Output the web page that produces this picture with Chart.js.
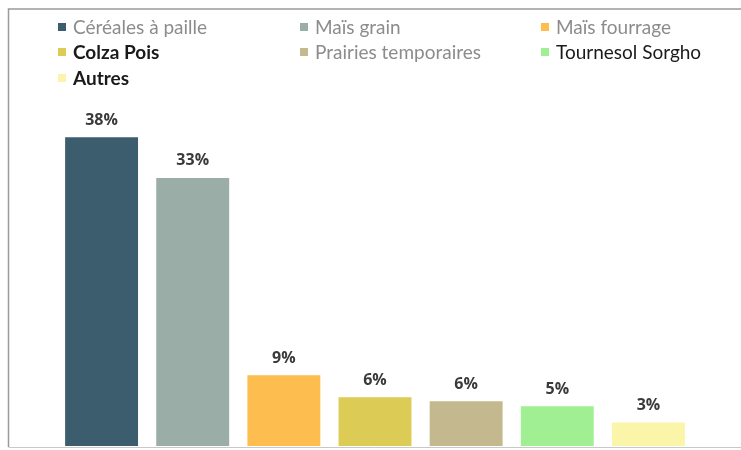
<!DOCTYPE html>
<html>
<head>
<meta charset="utf-8">
<script src="https://cdn.jsdelivr.net/npm/chart.js@4/dist/chart.umd.min.js"></script>
<style>
  html, body { margin: 0; padding: 0; background: #fff; }
  #wrap { width: 741px; height: 450px; position: relative; }
</style>
</head>
<body>
<div id="wrap"><canvas id="chart"></canvas></div>
<script>
// Crop categories and their share of the surface (%)
const categories = ['Céréales à paille', 'Maïs grain', 'Maïs fourrage', 'Colza Pois',
  'Prairies temporaires', 'Tournesol Sorgho', 'Autres'];
const shares = [38, 33, 8.7, 6.0, 5.5, 4.9, 2.9];
const shareLabels = ['38%', '33%', '9%', '6%', '6%', '5%', '3%'];

const barColors = ['#3b5d6e', '#9aada7', '#fdbd4f', '#dccb55', '#c4b88e', '#a0ef93', '#faf5a8'];
// legend text is faded on some entries in the original
const legendTextColors = ['#8c8c8c', '#8c8c8c', '#8c8c8c', '#1a1a1a', '#8c8c8c', '#1a1a1a', '#1a1a1a'];
const legendBold = [false, false, false, true, false, false, true];

// Frame around the figure
const framePlugin = {
  id: 'frame',
  beforeDraw(chart) {
    const ctx = chart.ctx;
    ctx.save();
    ctx.strokeStyle = '#9a9a9a';
    ctx.lineWidth = 1.5;
    ctx.beginPath();
    ctx.moveTo(8.5, 447);
    ctx.lineTo(8.5, 9);
    ctx.lineTo(741, 9);
    ctx.stroke();
    ctx.strokeStyle = '#c8c8c8';
    ctx.lineWidth = 1;
    ctx.beginPath();
    ctx.moveTo(8.5, 447.5);
    ctx.lineTo(741, 447.5);
    ctx.stroke();
    ctx.restore();
  }
};

// Three-column legend, as in the source figure
const gridLegendPlugin = {
  id: 'gridLegend',
  afterDraw(chart) {
    const ctx = chart.ctx;
    const colX = [58, 300, 541];
    const rowY = [27, 52, 78];
    ctx.save();
    ctx.textBaseline = 'middle';
    chart.data.labels.forEach((label, i) => {
      const x = colX[i % 3];
      const y = rowY[Math.floor(i / 3)];
      ctx.fillStyle = barColors[i];
      ctx.fillRect(x, y - 4, 8, 8);
      ctx.font = (legendBold[i] ? 'bold ' : '') + '19px Lato, "Open Sans", sans-serif';
      ctx.fillStyle = legendTextColors[i];
      ctx.fillText(label, x + 15, y + 1);
    });
    ctx.restore();
  }
};

// Percent labels above the bars
const valueLabelPlugin = {
  id: 'valueLabels',
  afterDatasetsDraw(chart) {
    const ctx = chart.ctx;
    const meta = chart.getDatasetMeta(0);
    ctx.save();
    ctx.font = 'bold 16px "Open Sans", sans-serif';
    ctx.fillStyle = '#3a3a3a';
    ctx.textAlign = 'center';
    ctx.textBaseline = 'bottom';
    meta.data.forEach((bar, i) => {
      ctx.fillText(shareLabels[i], bar.x, bar.y - 9);
    });
    ctx.restore();
  }
};

new Chart(document.getElementById('chart'), {
  type: 'bar',
  data: {
    labels: categories,
    datasets: [{
      data: shares,
      backgroundColor: barColors,
      borderWidth: 0,
      categoryPercentage: 1,
      barPercentage: 0.8
    }]
  },
  options: {
    responsive: true,
    maintainAspectRatio: false,
    animation: false,
    layout: { padding: { top: 121, bottom: 4, left: 56, right: 47 } },
    scales: {
      x: { display: false },
      y: { display: false, min: 0, max: 40 }
    },
    plugins: {
      legend: { display: false },
      tooltip: { enabled: false }
    }
  },
  plugins: [framePlugin, gridLegendPlugin, valueLabelPlugin]
});
</script>
</body>
</html>
